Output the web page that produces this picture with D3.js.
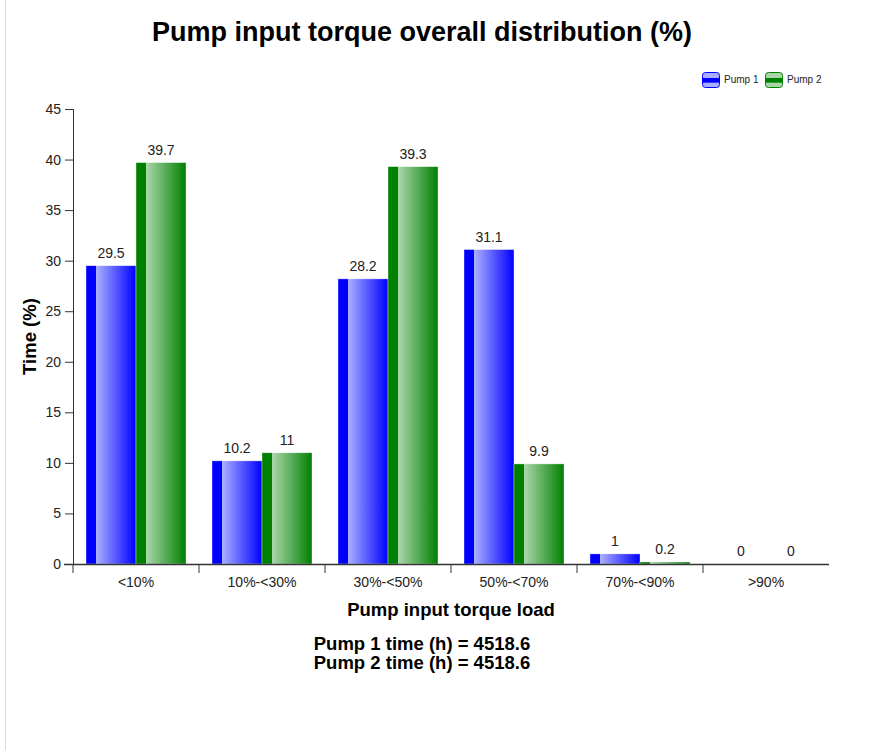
<!DOCTYPE html>
<html>
<head>
<meta charset="utf-8">
<script src="https://cdn.jsdelivr.net/npm/d3@7"></script>
<style>
 body { margin: 0; background: #fff; font-family: "Liberation Sans", Arial, sans-serif; }
 .axis text { font-size: 14px; fill: #222; font-family: "Liberation Sans", Arial, sans-serif; }
 .axis path, .axis line { stroke: #333; }
</style>
</head>
<body>
<div id="chart"></div>
<script>
const categories = ["<10%", "10%-<30%", "30%-<50%", "50%-<70%", "70%-<90%", ">90%"];
const series = ["Pump 1", "Pump 2"];
const pump1 = [29.5, 10.2, 28.2, 31.1, 1, 0];
const pump2 = [39.7, 11, 39.3, 9.9, 0.2, 0];
const yTicks = [0, 5, 10, 15, 20, 25, 30, 35, 40, 45];
const footer = ["Pump 1 time (h) = 4518.6", "Pump 2 time (h) = 4518.6"];

(function () {
 const width = 886;
 const height = 755;
 const margin = { top: 109, right: 57, bottom: 191, left: 73 };

 const svg = d3
  .select("#chart")
  .append("svg")
  .attr("width", width)
  .attr("height", height);

 // faint left border
 svg.append("line")
  .attr("x1", 5.5).attr("x2", 5.5)
  .attr("y1", 0).attr("y2", 750)
  .attr("stroke", "#ddd");

 const colors = { "Pump 1": ["#0000ff", "#a9aeff"], "Pump 2": ["#008000", "#a9d6a9"] };
 const defs = svg.append("defs");
 series.forEach((s, i) => {
  const g = defs.append("linearGradient")
   .attr("id", "grad" + i)
   .attr("x1", "0%").attr("x2", "100%").attr("y1", "0%").attr("y2", "0%");
  g.append("stop").attr("offset", "0%").attr("stop-color", colors[s][0]);
  g.append("stop").attr("offset", "19%").attr("stop-color", colors[s][0]);
  g.append("stop").attr("offset", "21%").attr("stop-color", colors[s][1]);
  g.append("stop").attr("offset", "100%").attr("stop-color", colors[s][0]);

  const lg = defs.append("linearGradient")
   .attr("id", "leg" + i)
   .attr("x1", "0%").attr("x2", "0%").attr("y1", "0%").attr("y2", "100%");
  lg.append("stop").attr("offset", "0%").attr("stop-color", colors[s][1]);
  lg.append("stop").attr("offset", "35%").attr("stop-color", colors[s][1]);
  lg.append("stop").attr("offset", "40%").attr("stop-color", colors[s][0]);
  lg.append("stop").attr("offset", "65%").attr("stop-color", colors[s][0]);
  lg.append("stop").attr("offset", "70%").attr("stop-color", colors[s][1]);
  lg.append("stop").attr("offset", "100%").attr("stop-color", colors[s][1]);
 });

 const x0 = d3.scaleBand()
  .domain(categories)
  .range([margin.left, width - margin.right]);

 const x1 = d3.scaleBand()
  .domain(series)
  .range([13, x0.bandwidth() - 13]);

 const y = d3.scaleLinear()
  .domain([0, 45])
  .range([height - margin.bottom, margin.top]);

 // title
 svg.append("text")
  .attr("x", 422)
  .attr("y", 41)
  .attr("text-anchor", "middle")
  .style("font-size", "27px")
  .style("font-weight", "bold")
  .text("Pump input torque overall distribution (%)");

 const data = categories.map((c, i) => ({ cat: c, values: [pump1[i], pump2[i]] }));

 const groups = svg.selectAll(".grp")
  .data(data)
  .enter()
  .append("g")
  .attr("class", "grp")
  .attr("transform", (d) => `translate(${x0(d.cat)},0)`);

 groups.selectAll("rect")
  .data((d) => d.values.map((v, i) => ({ s: series[i], v: v, i: i })))
  .enter()
  .append("rect")
  .attr("x", (d) => x1(d.s))
  .attr("width", x1.bandwidth())
  .attr("y", (d) => y(d.v))
  .attr("height", (d) => y(0) - y(d.v))
  .attr("fill", (d) => `url(#grad${d.i})`)
  .attr("stroke", "#fff")
  .attr("stroke-opacity", 0.6)
  .attr("stroke-width", 0.6);

 groups.selectAll(".val")
  .data((d) => d.values.map((v, i) => ({ s: series[i], v: v })))
  .enter()
  .append("text")
  .attr("class", "val")
  .attr("x", (d) => x1(d.s) + x1.bandwidth() / 2)
  .attr("y", (d) => y(d.v) - 8)
  .attr("text-anchor", "middle")
  .style("font-size", "14px")
  .style("fill", "#222")
  .text((d) => d.v);

 // axes
 svg.append("g")
  .attr("class", "axis")
  .attr("transform", `translate(0,${y(0)})`)
  .call(d3.axisBottom(x0).tickSize(0).tickPadding(13))
  .call((g) => g.select(".domain").attr("d", `M${margin.left - 9},0.5H${width - margin.right}`).attr("stroke-width", 1.5))
  .call((g) => {
   const edges = [margin.left].concat(categories.map((c) => x0(c) + x0.bandwidth())).slice(0, categories.length);
   g.selectAll(".edge")
    .data(edges)
    .enter()
    .append("line")
    .attr("class", "edge")
    .attr("x1", (d) => d).attr("x2", (d) => d)
    .attr("y1", 0).attr("y2", 9)
    .attr("stroke", "#333");
  });

 svg.append("g")
  .attr("class", "axis")
  .attr("transform", `translate(${margin.left},0)`)
  .call(d3.axisLeft(y).tickValues(yTicks).tickSize(8).tickPadding(4))
  .call((g) => g.select(".domain").attr("d", `M0.5,${y(45)}V${y(0)}`));

 // axis titles
 svg.append("text")
  .attr("x", 451)
  .attr("y", 616)
  .attr("text-anchor", "middle")
  .style("font-size", "18.5px")
  .style("font-weight", "bold")
  .text("Pump input torque load");

 svg.append("text")
  .attr("transform", `translate(36,${(y(0) + y(45)) / 2}) rotate(-90)`)
  .attr("text-anchor", "middle")
  .style("font-size", "18.5px")
  .style("font-weight", "bold")
  .text("Time (%)");

 svg.selectAll(".foot")
  .data(footer)
  .enter()
  .append("text")
  .attr("class", "foot")
  .attr("x", 422)
  .attr("y", (d, i) => 650 + i * 19)
  .attr("text-anchor", "middle")
  .style("font-size", "18.5px")
  .style("font-weight", "bold")
  .text((d) => d);

 // legend
 const legendX = [702, 765];
 const legend = svg.selectAll(".legend")
  .data(series)
  .enter()
  .append("g")
  .attr("class", "legend")
  .attr("transform", (d, i) => `translate(${legendX[i]},72)`);

 legend.append("rect")
  .attr("x", 0.5).attr("y", 0.5)
  .attr("width", 17).attr("height", 15)
  .attr("rx", 3)
  .attr("fill", (d, i) => `url(#leg${i})`)
  .attr("stroke", (d) => colors[d][0]);

 legend.append("text")
  .attr("x", 22)
  .attr("y", 11)
  .style("font-size", "10px")
  .style("fill", "#222")
  .text((d) => d);
})();
</script>
</body>
</html>
